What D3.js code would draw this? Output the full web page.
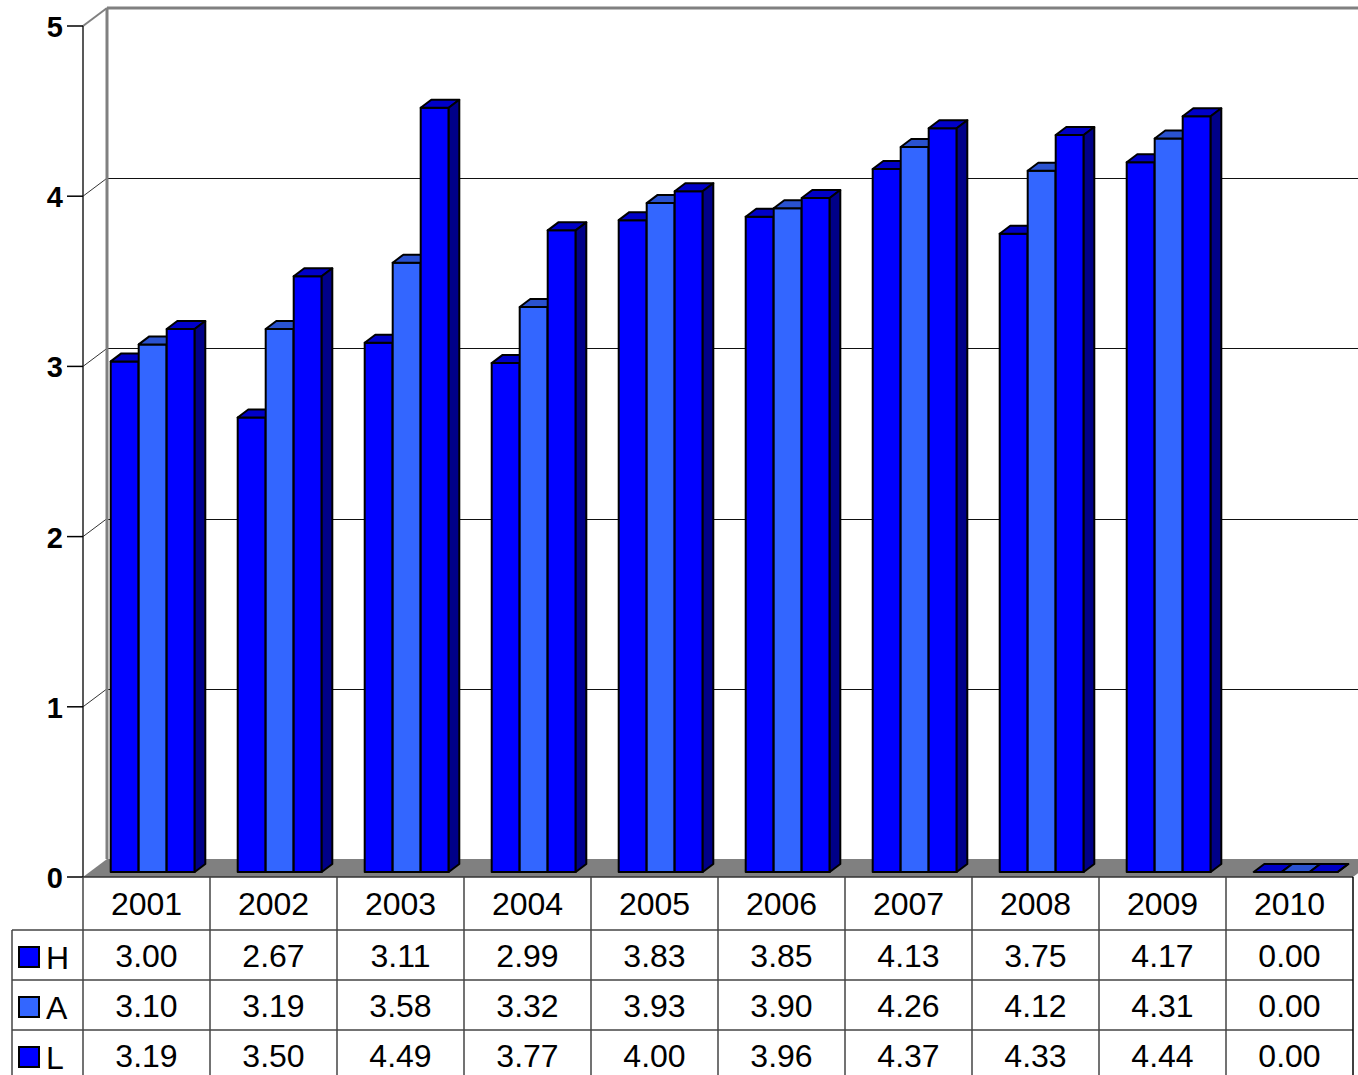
<!DOCTYPE html>
<html><head><meta charset="utf-8">
<script src="https://cdn.jsdelivr.net/npm/d3@7/dist/d3.min.js"></script>
<style>body{margin:0;background:#fff}svg{display:block;font-family:"Liberation Sans",Arial,sans-serif}</style>
</head><body><svg id="c" width="1358" height="1075"></svg>
<script>
const years = ["2001","2002","2003","2004","2005","2006","2007","2008","2009","2010"];
const seriesNames = ["H","A","L"];
const H = [3.00,2.67,3.11,2.99,3.83,3.85,4.13,3.75,4.17,0.00];
const A = [3.10,3.19,3.58,3.32,3.93,3.90,4.26,4.12,4.31,0.00];
const L = [3.19,3.50,4.49,3.77,4.00,3.96,4.37,4.33,4.44,0.00];
const yTicks = [0,1,2,3,4,5];

const seriesData = {H, A, L};
const colors = {
  H: {front:"#0000ff", top:"#0000c8", side:"#000088"},
  A: {front:"#3366ff", top:"#2a52d0", side:"#000088"},
  L: {front:"#0000ff", top:"#0000c8", side:"#000088"}
};

const svg = d3.select("#c");
const X0 = 83, X1 = 1353, Y0 = 877, Y5 = 26;
const DX = 24, DY = -18;          // wall depth
const y = d3.scaleLinear().domain([0,5]).range([Y0, Y5]);
const x = d3.scaleBand().domain(years).range([X0, X1]).padding(0);
const xs = d3.scaleBand().domain(seriesNames).range([21, 105]).padding(0);

// floor
svg.append("polygon")
  .attr("points", [[X0,Y0],[X1,Y0],[X1+DX,Y0+DY],[X0+DX,Y0+DY]].map(p=>p.join(",")).join(" "))
  .attr("fill","#808080");

// gridlines back wall + left wall diagonals
yTicks.filter(v=>v>0 && v<5).forEach(v=>{
  svg.append("line").attr("x1",X0+DX).attr("x2",1400).attr("y1",Math.round(y(v)+DY)+0.5).attr("y2",Math.round(y(v)+DY)+0.5)
    .attr("stroke","#111").attr("stroke-width",1);
  svg.append("line").attr("x1",X0).attr("y1",y(v)).attr("x2",X0+DX).attr("y2",y(v)+DY)
    .attr("stroke","#333").attr("stroke-width",1);
});
// back wall edges
svg.append("line").attr("x1",X0+DX).attr("x2",1400).attr("y1",y(5)+DY).attr("y2",y(5)+DY)
  .attr("stroke","#808080").attr("stroke-width",3);
svg.append("line").attr("x1",X0+DX).attr("x2",X0+DX).attr("y1",y(5)+DY).attr("y2",y(0)+DY)
  .attr("stroke","#808080").attr("stroke-width",3);
svg.append("line").attr("x1",X0).attr("y1",y(5)).attr("x2",X0+DX).attr("y2",y(5)+DY)
  .attr("stroke","#808080").attr("stroke-width",2);

// bars
const bx = 6.7, by = -5, ddx = 10.6, ddy = -8, bw = xs.bandwidth();
const g = svg.append("g").attr("stroke","#000").attr("stroke-width",2).attr("stroke-linejoin","round");
years.forEach((yr,i)=>{
  seriesNames.forEach(s=>{
    const v = seriesData[s][i];
    const xl = x(yr) + xs(s) + bx;
    const yb = y(0) + by, yt = y(v) + by;
    const c = colors[s];
    g.append("rect").attr("x",xl).attr("y",yt).attr("width",bw).attr("height",yb-yt).attr("fill",c.front);
    g.append("polygon").attr("fill",c.top)
      .attr("points",[[xl,yt],[xl+bw,yt],[xl+bw+ddx,yt+ddy],[xl+ddx,yt+ddy]].map(p=>p.join(",")).join(" "));
    g.append("polygon").attr("fill",c.side)
      .attr("points",[[xl+bw,yt],[xl+bw+ddx,yt+ddy],[xl+bw+ddx,yb+ddy],[xl+bw,yb]].map(p=>p.join(",")).join(" "));
  });
});

// y axis
svg.append("line").attr("x1",X0).attr("x2",X0).attr("y1",y(5)).attr("y2",y(0))
  .attr("stroke","#222").attr("stroke-width",1.5);
yTicks.forEach(v=>{
  svg.append("line").attr("x1",67).attr("x2",X0).attr("y1",y(v)).attr("y2",y(v))
    .attr("stroke","#000").attr("stroke-width",1.5);
  svg.append("text").attr("x",63).attr("y",y(v)+1).attr("text-anchor","end")
    .attr("dominant-baseline","central").attr("font-size",29).attr("font-weight","bold").text(v);
});

// data table
const rowTops = [877, 930, 980, 1030, 1080];
const tl = svg.append("g").attr("stroke","#444").attr("stroke-width",1.5);
tl.append("line").attr("x1",X0).attr("x2",X1).attr("y1",Y0).attr("y2",Y0).attr("stroke","#333");
[930,980,1030].forEach(r=>tl.append("line").attr("x1",12).attr("x2",X1).attr("y1",r).attr("y2",r));
years.forEach(yr=>tl.append("line").attr("x1",x(yr)).attr("x2",x(yr)).attr("y1",Y0).attr("y2",1075));
tl.append("line").attr("x1",X1).attr("x2",X1).attr("y1",Y0).attr("y2",1075).attr("stroke","#000");
tl.append("line").attr("x1",12).attr("x2",12).attr("y1",930).attr("y2",1075);

years.forEach(yr=>{
  svg.append("text").attr("x",x(yr)+x.bandwidth()/2).attr("y",903.5).attr("text-anchor","middle")
    .attr("dominant-baseline","central").attr("font-size",32).text(yr);
});
seriesNames.forEach((s,j)=>{
  const cy = (rowTops[j+1]+rowTops[j+2])/2 + 1;
  svg.append("rect").attr("x",19).attr("y",cy-9).attr("width",20).attr("height",20)
    .attr("fill",colors[s].front).attr("stroke","#000").attr("stroke-width",2);
  svg.append("text").attr("x",46).attr("y",cy+2).attr("dominant-baseline","central")
    .attr("font-size",32).text(s);
  years.forEach((yr,i)=>{
    svg.append("text").attr("x",x(yr)+x.bandwidth()/2).attr("y",cy).attr("text-anchor","middle")
      .attr("dominant-baseline","central").attr("font-size",32).text(seriesData[s][i].toFixed(2));
  });
});
</script></body></html>
